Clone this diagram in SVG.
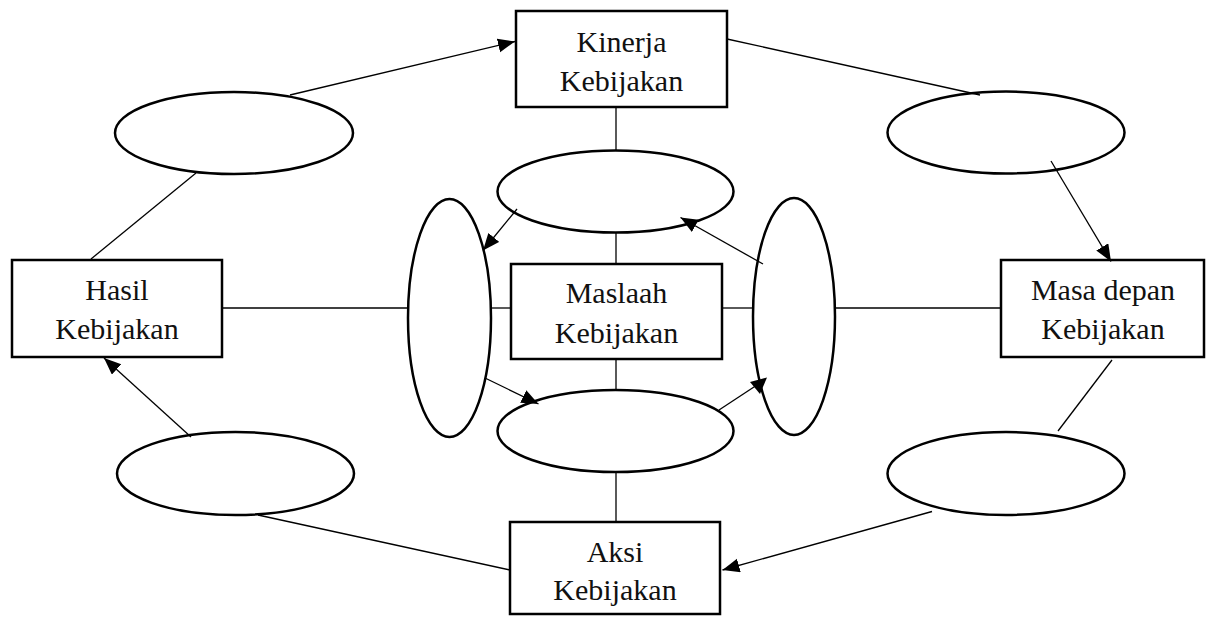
<svg xmlns="http://www.w3.org/2000/svg" width="1208" height="618" viewBox="0 0 1208 618">
  <style>
    .box { fill: #fff; stroke: #000; stroke-width: 2.5; }
    .oval { fill: #fff; stroke: #000; stroke-width: 2.5; }
    .lbl { font-family: "Liberation Serif", "Times New Roman", serif; font-size: 30px; fill: #111; text-anchor: middle; }
    .link { fill: none; stroke: #000; stroke-width: 1.3; }
    .arrow { fill: none; stroke: #000; stroke-width: 1.3; marker-end: url(#head); }
  </style>
  <defs>
    <marker id="head" markerUnits="userSpaceOnUse" markerWidth="18" markerHeight="15" refX="17" refY="7" orient="auto">
      <path d="M0,0 L17,7 L0,14 z" fill="#000"/>
    </marker>
  </defs>
  <rect width="1208" height="618" fill="#fff"/>

  <!-- rectangular nodes -->
  <g id="kinerja">
    <rect class="box" x="516" y="11" width="211" height="96"/>
    <text class="lbl" x="621.5" y="52">Kinerja</text>
    <text class="lbl" x="621.5" y="91">Kebijakan</text>
  </g>
  <g id="hasil">
    <rect class="box" x="12" y="260" width="210" height="97"/>
    <text class="lbl" x="117" y="300">Hasil</text>
    <text class="lbl" x="117" y="339">Kebijakan</text>
  </g>
  <g id="masa-depan">
    <rect class="box" x="1001" y="260" width="203" height="97"/>
    <text class="lbl" x="1103" y="300">Masa depan</text>
    <text class="lbl" x="1103" y="339">Kebijakan</text>
  </g>
  <g id="maslaah">
    <rect class="box" x="511" y="264" width="211" height="95"/>
    <text class="lbl" x="616.5" y="303">Maslaah</text>
    <text class="lbl" x="616.5" y="343">Kebijakan</text>
  </g>
  <g id="aksi">
    <rect class="box" x="510" y="522" width="210" height="92"/>
    <text class="lbl" x="615" y="562">Aksi</text>
    <text class="lbl" x="615" y="600">Kebijakan</text>
  </g>

  <!-- empty oval nodes -->
  <g id="oval-top-left"><ellipse class="oval" cx="234" cy="133" rx="119" ry="41"/></g>
  <g id="oval-top-right"><ellipse class="oval" cx="1006" cy="132.5" rx="118.5" ry="41"/></g>
  <g id="oval-bottom-left"><ellipse class="oval" cx="235.5" cy="473.5" rx="118.5" ry="41.5"/></g>
  <g id="oval-bottom-right"><ellipse class="oval" cx="1006" cy="473.5" rx="118.5" ry="41.5"/></g>
  <g id="oval-center-top"><ellipse class="oval" cx="615.5" cy="191.5" rx="118" ry="41"/></g>
  <g id="oval-center-bottom"><ellipse class="oval" cx="615.5" cy="431" rx="118" ry="41"/></g>
  <g id="oval-center-left"><ellipse class="oval" cx="449.5" cy="318" rx="41.5" ry="119"/></g>
  <g id="oval-center-right"><ellipse class="oval" cx="794" cy="316.5" rx="41" ry="118.5"/></g>

  <!-- connectors -->
  <g id="connectors">
    <!-- vertical axis -->
    <line class="link" x1="616" y1="107" x2="616" y2="150.5"/>
    <line class="link" x1="616" y1="232.5" x2="616" y2="264"/>
    <line class="link" x1="616" y1="359" x2="616" y2="390"/>
    <line class="link" x1="616" y1="472" x2="616" y2="522"/>
    <!-- horizontal axis -->
    <line class="link" x1="222" y1="308" x2="408" y2="308"/>
    <line class="link" x1="491" y1="308" x2="511" y2="308"/>
    <line class="link" x1="722" y1="308" x2="753" y2="308"/>
    <line class="link" x1="835" y1="308" x2="1001" y2="308"/>
    <!-- outer cycle -->
    <line class="arrow" x1="290" y1="95" x2="515" y2="41.5"/>
    <line class="link" x1="727" y1="39" x2="980" y2="95"/>
    <line class="arrow" x1="1051" y1="161" x2="1111" y2="261.5"/>
    <line class="link" x1="1112" y1="360" x2="1058" y2="431"/>
    <line class="arrow" x1="932" y1="511.5" x2="722.5" y2="570"/>
    <line class="link" x1="510" y1="570" x2="258" y2="515"/>
    <line class="arrow" x1="191" y1="437" x2="104" y2="358"/>
    <line class="link" x1="196" y1="173" x2="91" y2="259"/>
    <!-- inner cycle -->
    <line class="arrow" x1="517" y1="209" x2="483" y2="250.5"/>
    <line class="arrow" x1="485" y1="378" x2="538.5" y2="404"/>
    <line class="link" x1="719" y1="410" x2="757" y2="385"/>
    <polygon points="750,382 767,377.5 760,394" fill="#000"/>
    <line class="arrow" x1="763" y1="264" x2="680.5" y2="217.5"/>
  </g>
</svg>
